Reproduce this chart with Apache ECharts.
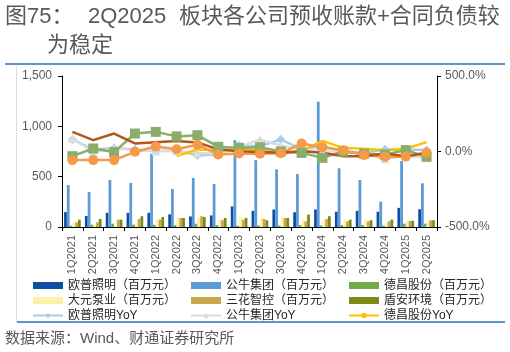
<!DOCTYPE html>
<html><head><meta charset="utf-8">
<script src="https://cdn.jsdelivr.net/npm/echarts@6/dist/echarts.min.js"></script>
<style>html,body{margin:0;padding:0;background:#fff}#c{width:510px;height:352px}</style>
</head><body><div id="c"></div>
<script>
const categories = ['1Q2021','2Q2021','3Q2021','4Q2021','1Q2022','2Q2022','3Q2022','4Q2022','1Q2023','2Q2023','3Q2023','4Q2023','1Q2024','2Q2024','3Q2024','4Q2024','1Q2025','2Q2025'];
const leftTicks = [0, 500, 1000, 1500];
const rightTicks = [-500, 0, 500];
// 预收账款+合同负债（百万元）
const opple = [148,110,141,141,141,126,105,115,205,160,174,147,174,152,160,152,190,176];
const bull = [417,348,467,437,730,377,487,427,862,665,573,526,1245,583,467,252,655,434];
const dechang = [13,23,33,23,23,20,33,20,13,15,15,20,15,20,20,13,33,33];
const dayuan = [40,23,13,40,73,100,100,73,100,90,100,67,67,73,73,40,57,57];
const sanhua = [47,47,73,80,73,90,107,67,73,80,90,57,80,57,57,57,60,67];
const dunan = [73,80,73,107,100,90,100,90,90,67,90,123,107,73,67,73,63,67];
// YoY (%)
const oppleYoY = [80,13,24,13,2,5,-25,-20,40,35,79,18,35,2,-9,13,13,10];
const bullYoY = [90,-5,24,5,5,5,-10,-15,31,79,40,10,2,0,-20,-48,-30,-42];
const dechangYoY = [null,null,null,null,null,-31,13,9,18,9,-15,2,70,24,18,9,18,62];
const dayuanYoY = [-31,20,-4,119,130,100,108,31,24,28,0,-9,-42,0,-15,-20,9,-35];
const sanhuaYoY = [-57,-57,-57,-2,33,15,45,-20,-13,-15,-12,53,28,9,-24,-35,-35,-9];
const dunanYoY = [130,75,119,53,62,70,60,13,2,-4,-9,2,-9,-31,-31,-13,-31,-9];

const FONT = '"Liberation Sans", "Noto Sans CJK SC", sans-serif';
const GRAY = '#595959';
const chart = echarts.init(document.getElementById('c'), null, {renderer:'canvas'});

function bar(name, data, color){
  return {name, type:'bar', data, yAxisIndex:0, barGap:'0%', barCategoryGap:'20%', itemStyle:{color}};
}
function line(name, data, color, symbol, size, show){
  return {name, type:'line', data, yAxisIndex:1, symbol, symbolSize:size, showSymbol:show,
    lineStyle:{color, width:2.5}, itemStyle:{color}, connectNulls:false};
}

const legendText = {fontSize:12, color:'#262626', fontFamily:FONT, lineHeight:15};
function col(left, names){
  return {orient:'vertical', left, top:278, itemWidth:30, itemHeight:7, itemGap:0,
    textStyle:legendText, data:names, selectedMode:false, padding:0};
}

chart.setOption({
  animation:false,
  textStyle:{fontFamily:FONT},
  grid:{left:62, right:73, top:76, bottom:125, containLabel:false},
  legend:[
    col(32, [{name:'欧普照明（百万元）',icon:'rect'},{name:'大元泵业（百万元）',icon:'rect'},{name:'欧普照明YoY'}]),
    col(190, [{name:'公牛集团（百万元）',icon:'rect'},{name:'三花智控（百万元）',icon:'rect'},{name:'公牛集团YoY'}]),
    col(348, [{name:'德昌股份（百万元）',icon:'rect'},{name:'盾安环境（百万元）',icon:'rect'},{name:'德昌股份YoY'}])
  ],
  xAxis:{type:'category', data:categories, boundaryGap:true,
    axisLine:{lineStyle:{color:'#000', width:1}},
    axisTick:{show:true, alignWithLabel:false, length:4, lineStyle:{color:'#000'}},
    axisLabel:{rotate:90, fontSize:11, color:GRAY, margin:8, interval:0, fontFamily:FONT}},
  yAxis:[
    {type:'value', min:leftTicks[0], max:leftTicks[leftTicks.length-1], interval:500,
      axisLine:{show:true, lineStyle:{color:'#000'}}, axisTick:{show:true, length:4, lineStyle:{color:'#000'}},
      splitLine:{show:false},
      axisLabel:{fontSize:12, color:GRAY, margin:10, fontFamily:FONT,
        formatter:v=>v.toLocaleString('en-US')}},
    {type:'value', min:rightTicks[0], max:rightTicks[rightTicks.length-1], interval:500, position:'right',
      axisLine:{show:true, lineStyle:{color:'#000'}}, axisTick:{show:true, length:4, lineStyle:{color:'#000'}},
      splitLine:{show:false},
      axisLabel:{fontSize:12, color:GRAY, margin:8, fontFamily:FONT,
        formatter:v=>v.toFixed(1)+'%'}}
  ],
  series:[
    bar('欧普照明（百万元）', opple, '#0d4ea6'),
    bar('公牛集团（百万元）', bull, '#5b9bd5'),
    bar('德昌股份（百万元）', dechang, '#70ad47'),
    bar('大元泵业（百万元）', dayuan, '#fff0a8'),
    bar('三花智控（百万元）', sanhua, '#c9a84c'),
    bar('盾安环境（百万元）', dunan, '#7a8c14'),
    line('欧普照明YoY', oppleYoY, '#a9cbec', 'diamond', 9, true),
    line('公牛集团YoY', bullYoY, '#dcdcdc', 'triangle', 9, true),
    line('德昌股份YoY', dechangYoY, '#ffc000', 'circle', 3, false),
    line('大元泵业YoY', dayuanYoY, '#8aad69', 'rect', 10, true),
    line('三花智控YoY', sanhuaYoY, '#f59b47', 'circle', 10, true),
    line('盾安环境YoY', dunanYoY, '#b3561b', 'none', 0, false)
  ],
  graphic:[
    {type:'text', left:5, top:6, style:{text:'图75：', font:'22px '+FONT, fill:GRAY}},
    {type:'text', left:88, top:6, style:{text:'2Q2025', font:'22px '+FONT, fill:GRAY}},
    {type:'text', left:179, top:6, style:{text:'板块各公司预收账款+合同负债较', font:'22px '+FONT, fill:GRAY}},
    {type:'text', left:47, top:35, style:{text:'为稳定', font:'22px '+FONT, fill:GRAY}},
    {type:'line', shape:{x1:5, y1:64, x2:505, y2:64}, style:{stroke:'#2e6fb7', lineWidth:1.5}},
    {type:'line', shape:{x1:16.5, y1:66, x2:16.5, y2:322}, style:{stroke:'#dcdcdc', lineWidth:1}},
    {type:'line', shape:{x1:17, y1:322, x2:505, y2:322}, style:{stroke:'#2e6fb7', lineWidth:1.5}},
    {type:'text', left:5, top:331, style:{text:'数据来源：Wind、财通证券研究所', font:'15px '+FONT, fill:GRAY}}
  ]
});
</script></body></html>
